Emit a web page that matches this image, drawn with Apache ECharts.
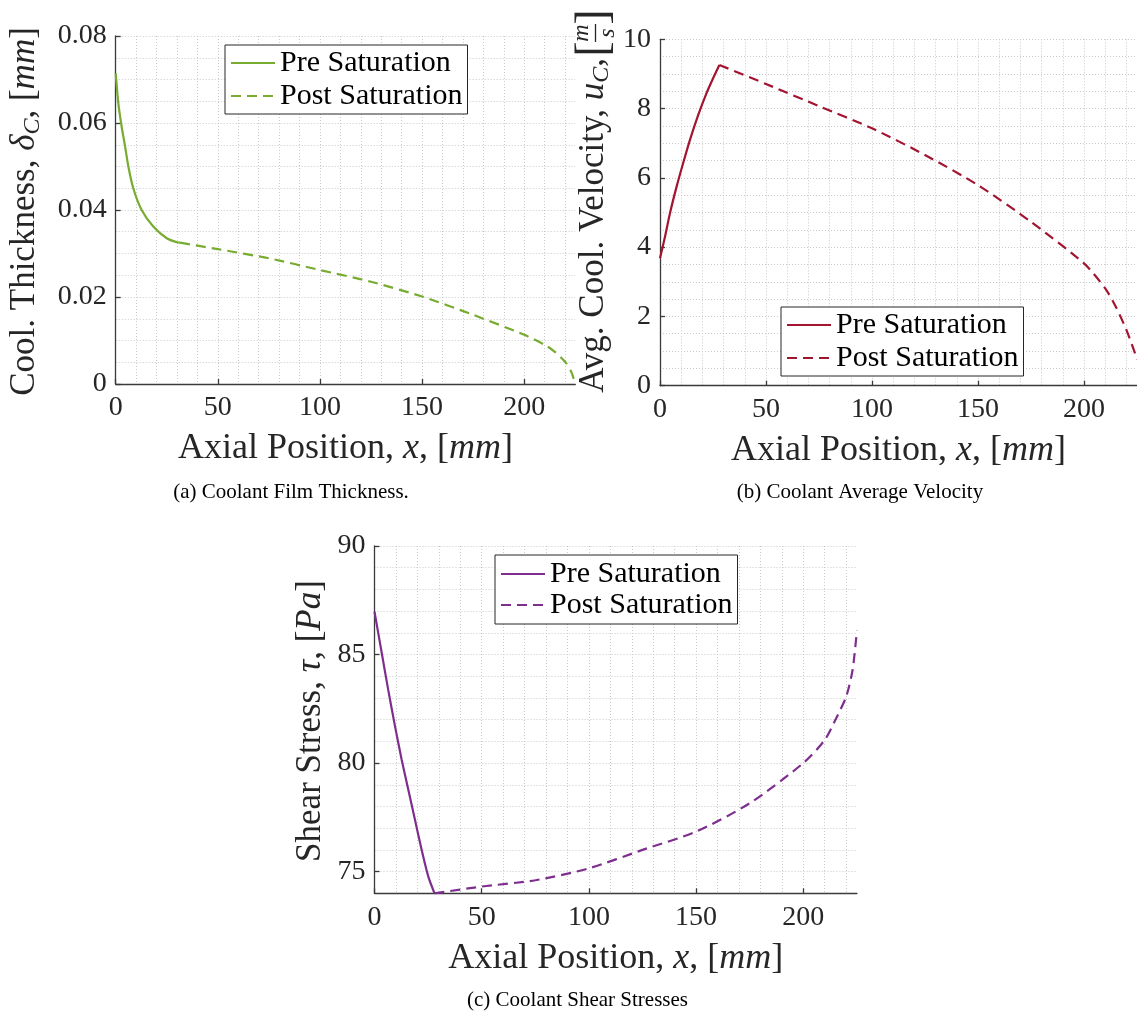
<!DOCTYPE html>
<html>
<head>
<meta charset="utf-8">
<script src="https://cdn.jsdelivr.net/npm/echarts@6/dist/echarts.min.js"></script>
<style>
html,body{margin:0;padding:0;background:#fff;}
#chart{width:1137px;height:1012px;}
</style>
</head>
<body>
<div id="chart"></div>
<script>
// ---- Data ----
// (a) Coolant film thickness [mm]
const xPreA = [0, 1.3, 2.9, 4.6, 6.2, 8.6, 12.7, 18.4, 25.0, 29.9, 31.5];
const thickPre = [0.0714, 0.0645, 0.0592, 0.0546, 0.0500, 0.0450, 0.0400, 0.0362, 0.0335, 0.0326, 0.0325];
const xPostA = [31.5, 50, 75, 100, 125, 150, 175, 200, 210, 215, 220, 223, 225];
const thickPost = [0.0325, 0.0310, 0.0289, 0.0262, 0.0235, 0.0201, 0.0159, 0.0113, 0.0090, 0.0074, 0.0051, 0.0028, 0];
// (b) Coolant average velocity [m/s]
const xPreB = [0, 2.35, 4.7, 7.8, 10.9, 14.1, 18.0, 21.9, 25.0, 28];
const velPre = [3.68, 4.30, 4.98, 5.74, 6.42, 7.09, 7.81, 8.44, 8.87, 9.26];
const xPostB = [28, 50, 75, 100, 125, 150, 175, 200, 210, 215, 220, 224, 225];
const velPost = [9.26, 8.71, 8.07, 7.43, 6.66, 5.79, 4.73, 3.53, 2.81, 2.28, 1.61, 0.95, 0.75];
// (c) Coolant shear stress [Pa]
const xPreC = [0, 3.4, 6.4, 9.6, 12.7, 15.8, 18.9, 22.0, 25.1, 28];
const shearPre = [86.97, 85.06, 83.37, 81.68, 80.14, 78.76, 77.38, 76.0, 74.77, 74.0];
const xPostC = [28, 50, 75, 100, 125, 150, 175, 200, 210, 215, 220, 223, 225];
const shearPost = [74.0, 74.31, 74.6, 75.15, 76.0, 76.84, 78.15, 80.0, 81.06, 82.0, 83.06, 84.3, 86.1];

// Tick labels
const xTicks = [0, 50, 100, 150, 200];
const yTicksA = [0, 0.02, 0.04, 0.06, 0.08];
const yTicksB = [0, 2, 4, 6, 8, 10];
const yTicksC = [75, 80, 85, 90];

const seriesNames = ['Pre Saturation', 'Post Saturation'];
const captions = ['(a) Coolant Film Thickness.', '(b) Coolant Average Velocity', '(c) Coolant Shear Stresses'];

// ---- Styling ----
const FONT = "'Liberation Serif', 'DejaVu Serif', serif";
const INK = '#262626';
const COLORS = ['#77AC30', '#A2142F', '#7E2F8E'];

function rich(size) {
  return {
    r: {fontFamily: FONT, fontSize: size, color: INK, fill: INK, lineHeight: 40},
    i: {fontFamily: FONT, fontSize: size, fontStyle: 'italic', color: INK, fill: INK, lineHeight: 40},
    s: {fontFamily: FONT, fontSize: Math.round(size * 0.68), fontStyle: 'italic', color: INK, fill: INK, lineHeight: 22, verticalAlign: 'bottom'}
  };
}

const grids = [
  {left: 115.7, top: 36, width: 459.6, height: 348},
  {left: 660, top: 39.3, width: 479, height: 346.4},
  {left: 374.5, top: 546, width: 482.4, height: 347.3}
];

const xMin = 0, xMax = 225;
const yRanges = [
  {min: 0, max: 0.08, minor: 0.005, ticks: yTicksA},
  {min: 0, max: 10, minor: 0.5, ticks: yTicksB},
  {min: 74, max: 90, minor: 1, ticks: yTicksC}
];

const gridLine = {show: true, showMaxLine: true, lineStyle: {color: '#c9c9c9', width: 1, type: [1, 2]}};
const axisLineStyle = {show: true, lineStyle: {color: '#3a3a3a', width: 1.3}};
const labelStyle = {fontFamily: FONT, fontSize: 28, color: INK};

const xAxes = [], yAxes = [];
grids.forEach(function (g, i) {
  xAxes.push({
    type: 'value', gridIndex: i, min: xMin, max: xMax, position: 'bottom',
    axisLine: axisLineStyle,
    axisTick: {show: true, inside: true, length: 5, customValues: xTicks, lineStyle: {color: '#3a3a3a', width: 1.3}},
    axisLabel: Object.assign({customValues: xTicks, margin: 10}, labelStyle),
    splitLine: {show: false},
    name: '{r|Axial Position, }{i|x}{r|, [}{i|mm}{r|]}',
    nameLocation: 'middle', nameGap: 45,
    nameTextStyle: {fontFamily: FONT, fontSize: 36, color: INK, lineHeight: 40, rich: rich(36)}
  });
  xAxes.push({
    type: 'value', gridIndex: i, min: xMin, max: xMax, interval: 10, position: 'bottom',
    axisLine: {show: false}, axisTick: {show: false}, axisLabel: {show: false},
    splitLine: Object.assign({}, gridLine, {showMaxLine: false})
  });
  const yr = yRanges[i];
  yAxes.push({
    type: 'value', gridIndex: i, min: yr.min, max: yr.max, position: 'left',
    axisLine: axisLineStyle,
    axisTick: {show: true, inside: true, length: 5, customValues: yr.ticks, lineStyle: {color: '#3a3a3a', width: 1.3}},
    axisLabel: Object.assign({customValues: yr.ticks, margin: 9}, labelStyle),
    splitLine: {show: false}
  });
  yAxes.push({
    type: 'value', gridIndex: i, min: yr.min, max: yr.max, interval: yr.minor, position: 'left',
    axisLine: {show: false}, axisTick: {show: false}, axisLabel: {show: false},
    splitLine: gridLine
  });
});

function pairs(xs, ys) { return xs.map(function (x, k) { return [x, ys[k]]; }); }

const seriesData = [
  [pairs(xPreA, thickPre), pairs(xPostA, thickPost)],
  [pairs(xPreB, velPre), pairs(xPostB, velPost)],
  [pairs(xPreC, shearPre), pairs(xPostC, shearPost)]
];
const tags = ['a', 'b', 'c'];

const series = [];
seriesData.forEach(function (pair, i) {
  pair.forEach(function (data, j) {
    series.push({
      type: 'line',
      name: seriesNames[j] + '|' + tags[i],
      xAxisIndex: 2 * i, yAxisIndex: 2 * i,
      data: data,
      symbol: 'none', showSymbol: false,
      smooth: 0.25,
      itemStyle: {color: COLORS[i]},
      lineStyle: {color: COLORS[i], width: 2.2, type: j === 0 ? 'solid' : [10, 6]},
      z: 5
    });
  });
});

const legendCommon = {
  orient: 'vertical',
  formatter: function (n) { return n.split('|')[0]; },
  padding: [3, 5, 3, 5], itemGap: 3, itemWidth: 44, itemHeight: 1,
  itemStyle: {opacity: 0},
  borderColor: INK, borderWidth: 1, backgroundColor: '#fff',
  textStyle: {fontFamily: FONT, fontSize: 30, color: '#000', lineHeight: 30},
  selectedMode: false
};
const legendPos = [
  {left: 225, top: 45},
  {left: 781, top: 307},
  {left: 495, top: 555, itemGap: 1, padding: [4, 5, 4, 5]}
];
const legends = legendPos.map(function (p, i) {
  return Object.assign({}, legendCommon, p, {data: seriesNames.map(function (n) { return n + '|' + tags[i]; })});
});

const R = rich(35);
const graphics = [
  {type: 'text', x: 25, y: 211.5, rotation: Math.PI / 2, z: 10,
    style: {text: '{r|Cool. Thickness, }{i|\u03B4}{s|C}{r|, [}{i|mm}{r|]}', rich: R, align: 'center', verticalAlign: 'middle', fill: INK}},
  {type: 'group', x: 594, y: 33, rotation: Math.PI / 2, z: 10, children: [
    {type: 'text', x: -25, y: 0,
      style: {text: '{r|Avg. Cool. Velocity, }{i|u}{s|C}{r|,}', rich: R, align: 'right', verticalAlign: 'middle', fill: INK}},
    {type: 'text', x: -16, y: 1, style: {text: '[', font: '46px ' + FONT, fill: INK, align: 'center', verticalAlign: 'middle'}},
    {type: 'text', x: 16, y: 1, style: {text: ']', font: '46px ' + FONT, fill: INK, align: 'center', verticalAlign: 'middle'}},
    {type: 'text', x: 0, y: 0, style: {text: 'm', font: 'italic 24px ' + FONT, fill: INK, align: 'center', verticalAlign: 'bottom'}},
    {type: 'text', x: 0, y: 2, style: {text: 's', font: 'italic 24px ' + FONT, fill: INK, align: 'center', verticalAlign: 'top'}},
    {type: 'line', shape: {x1: -9, y1: 1.5, x2: 9, y2: 1.5}, style: {stroke: INK, lineWidth: 1.3}}
  ]},
  {type: 'text', x: 311, y: 721, rotation: Math.PI / 2, z: 10,
    style: {text: '{r|Shear Stress, }{i|\u03C4}{r|, [}{i|Pa}{r|]}', rich: R, align: 'center', verticalAlign: 'middle', fill: INK}},
  {type: 'text', x: 291, y: 492, style: {text: captions[0], font: '21px ' + FONT, fill: '#000', align: 'center', verticalAlign: 'middle'}},
  {type: 'text', x: 860, y: 492, style: {text: captions[1], font: '21px ' + FONT, fill: '#000', align: 'center', verticalAlign: 'middle'}},
  {type: 'text', x: 577.5, y: 1000, style: {text: captions[2], font: '21px ' + FONT, fill: '#000', align: 'center', verticalAlign: 'middle'}}
];

const chart = echarts.init(document.getElementById('chart'), null, {renderer: 'canvas'});
chart.setOption({
  animation: false,
  backgroundColor: '#fff',
  grid: grids,
  xAxis: xAxes,
  yAxis: yAxes,
  legend: legends,
  series: series,
  graphic: graphics
});
</script>
</body>
</html>
